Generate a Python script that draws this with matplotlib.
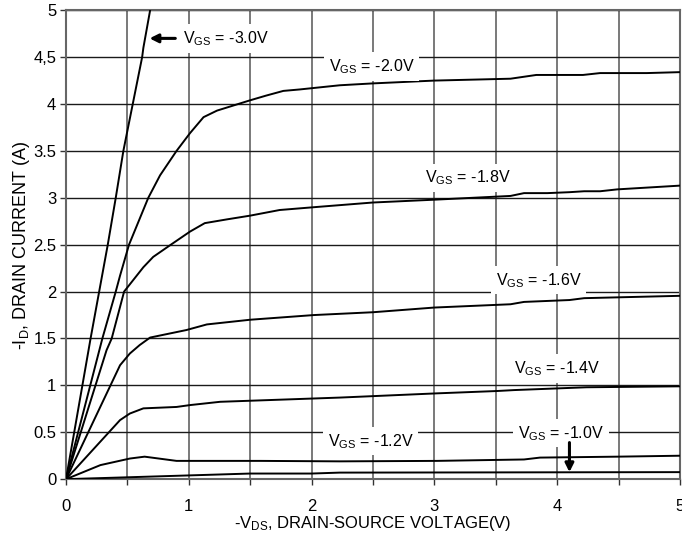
import matplotlib
matplotlib.use("Agg")
import matplotlib.pyplot as plt

plt.rcParams['font.family'] = ['Liberation Sans', 'DejaVu Sans']
plt.rcParams['mathtext.fontset'] = 'custom'
plt.rcParams['mathtext.rm'] = 'Liberation Sans'
plt.rcParams['mathtext.it'] = 'Liberation Sans'

#curves (-VDS, -ID)
vds_30 = [0, 0.2, 0.27, 0.34, 0.405, 0.467, 0.62, 0.63, 0.685, 0.70]
id_30 = [0, 1.5, 2.0, 2.5, 3.0, 3.5, 4.5, 4.6, 5.0, 5.1]

vds_20 = [0, 0.296, 0.405, 0.44, 0.513, 0.67, 0.69, 0.766, 0.90, 1.01, 1.12, 1.23,
          1.5, 1.63, 1.77, 1.9, 2.23, 2.5, 3.0, 3.62, 3.83, 4.21, 4.35, 4.73, 5.0]
id_20 = [0, 1.5, 2.0, 2.17, 2.5, 3.0, 3.05, 3.24, 3.5, 3.69, 3.86, 3.93,
         4.04, 4.09, 4.14, 4.155, 4.2, 4.22, 4.25, 4.27, 4.31, 4.31, 4.33, 4.33, 4.34]

vds_18 = [0, 0.33, 0.372, 0.473, 0.63, 0.71, 0.848, 1.01, 1.13, 1.31, 1.5, 1.74,
          2.02, 2.5, 3.0, 3.62, 3.73, 3.92, 4.1, 4.22, 4.35, 4.49, 5.0]
id_18 = [0, 1.375, 1.5, 2.0, 2.26, 2.37, 2.495, 2.64, 2.73, 2.77, 2.81, 2.87,
         2.90, 2.95, 2.98, 3.02, 3.05, 3.05, 3.06, 3.07, 3.07, 3.09, 3.13]

vds_16 = [0, 0.44, 0.52, 0.60, 0.685, 0.98, 1.147, 1.5, 2.02, 2.5, 3.0, 3.62,
          3.73, 4.1, 4.22, 5.0]
id_16 = [0, 1.215, 1.34, 1.43, 1.51, 1.59, 1.65, 1.70, 1.75, 1.78, 1.83, 1.865,
         1.89, 1.91, 1.93, 1.955]

vds_14 = [0, 0.44, 0.52, 0.63, 0.90, 1.01, 1.255, 1.58, 2.23, 3.02, 3.51, 3.65, 4.24, 5.0]
id_14 = [0, 0.63, 0.70, 0.755, 0.77, 0.79, 0.825, 0.84, 0.87, 0.915, 0.94, 0.95, 0.98, 0.99]

vds_12 = [0, 0.28, 0.52, 0.64, 0.90, 1.58, 2.23, 3.02, 3.73, 3.86, 4.49, 5.0]
id_12 = [0, 0.15, 0.22, 0.24, 0.195, 0.195, 0.19, 0.195, 0.21, 0.23, 0.24, 0.25]

vds_10 = [0, 1.0, 1.5, 2.0, 2.23, 5.0]
id_10 = [0, 0.04, 0.06, 0.06, 0.07, 0.075]

curves = [(vds_30, id_30), (vds_20, id_20), (vds_18, id_18), (vds_16, id_16),
          (vds_14, id_14), (vds_12, id_12), (vds_10, id_10)]

#label text and centre positions
labels = ['-2.0V', '-1.8V', '-1.6V', '-1.4V', '-1.2V', '-1.0V']
label_x = [2.49, 3.27, 3.85, 4.0, 2.48, 4.03]
label_y = [4.40, 3.21, 2.12, 1.18, 0.405, 0.49]

ytick_vals = [0, 0.5, 1, 1.5, 2, 2.5, 3, 3.5, 4, 4.5, 5]
ytick_text = ['0', '0.5', '1', '1.5', '2', '2.5', '3', '3.5', '4', '4,5', '5']
xtick_vals = [0, 0.5, 1, 1.5, 2, 2.5, 3, 3.5, 4, 4.5, 5]
xtick_text = ['0', '', '1', '', '2', '', '3', '', '4', '', '5']

fig = plt.figure(figsize=(6.82, 5.39), dpi=100)
ax = fig.add_axes([0.0968, 0.111, 0.9002, 0.870])

for xs, ys in curves:
    ax.plot(xs, ys, color='black', linewidth=1.4, zorder=3)

ax.set_xlim(0, 5)
ax.set_ylim(0, 5)
ax.set_xticks(xtick_vals)
ax.set_xticklabels(xtick_text)
ax.set_yticks(ytick_vals)
ax.set_yticklabels(ytick_text)
ax.tick_params(labelsize=12, length=4, width=1, color='#333333', pad=3)
ax.tick_params(axis='x', pad=10)
ax.xaxis.grid(True, color='#555555', linewidth=1.1, zorder=1)
ax.yaxis.grid(True, color='#1a1a1a', linewidth=1.0, zorder=1)
for s in ax.spines.values():
    s.set_color('#666666')
    s.set_linewidth(1.5)

ax.set_xlabel(r'-V$_{\mathrm{DS}}$, DRAIN-SOURCE VOLTAGE(V)', fontsize=12, labelpad=0)
ax.set_ylabel(r'-I$_{\mathrm{D}}$, DRAIN CURRENT (A)', fontsize=13, labelpad=1)

box = dict(facecolor='white', edgecolor='none', pad=3.5)
for t, x, y in zip(labels, label_x, label_y):
    ax.text(x, y, r'V$_{\mathrm{GS}}$ = ' + t, fontsize=11.5, ha='center', va='center',
            bbox=box, zorder=4)

ax.text(0.953, 4.70, r'V$_{\mathrm{GS}}$ = -3.0V', fontsize=11.5, ha='left', va='center',
        bbox=box, zorder=4)
ax.annotate('', xy=(0.68, 4.70), xytext=(0.89, 4.70),
            arrowprops=dict(arrowstyle='-|>,head_length=0.5,head_width=0.25', color='black',
                            linewidth=2.2, shrinkA=0, shrinkB=0), zorder=5)
ax.annotate('', xy=(4.1, 0.075), xytext=(4.1, 0.39),
            arrowprops=dict(arrowstyle='-|>,head_length=0.5,head_width=0.25', color='black',
                            linewidth=2.2, shrinkA=0, shrinkB=0), zorder=5)

fig.savefig('out.png', dpi=100)
